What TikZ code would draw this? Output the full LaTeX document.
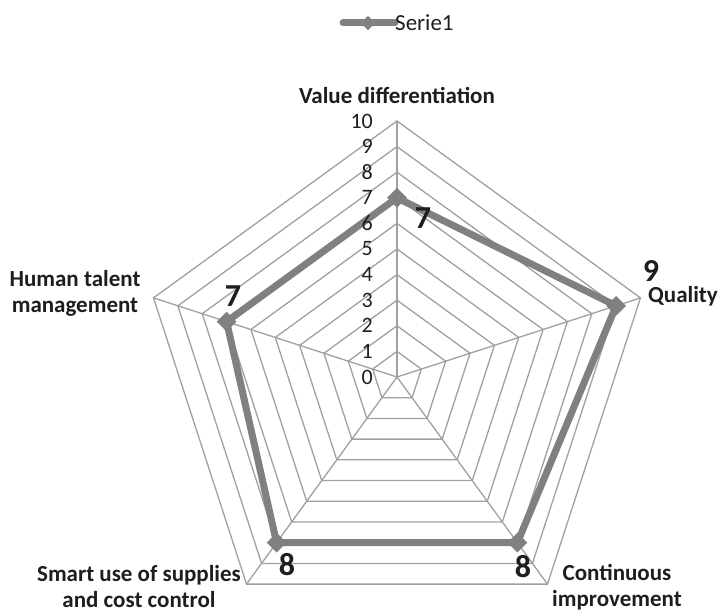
\documentclass[tikz,border=0pt]{standalone}
\usepackage{fontspec}
\setmainfont{Carlito}
\definecolor{gridgray}{HTML}{A0A0A0}
\definecolor{seriegray}{HTML}{808080}
\definecolor{textgray}{HTML}{1E1E1E}
\begin{document}
\begin{tikzpicture}[x=1pt,y=1pt,
  grid/.style={draw=gridgray,line width=1.3pt},
  serie/.style={draw=seriegray,line width=7pt,line join=round},
  marker/.style={fill=seriegray,minimum size=14pt,inner sep=0pt,rotate=45},
  tick/.style={font=\fontsize{22}{24}\selectfont,text=textgray,inner sep=0pt,anchor=east},
  axislabel/.style={font=\fontsize{23}{26}\bfseries\selectfont,align=center,text=textgray,inner sep=0pt},
  datalabel/.style={font=\fontsize{32}{36}\bfseries\selectfont,text=textgray,inner sep=0pt}]
  \useasboundingbox (-397,-238) rectangle (322,377);

  % grid rings and spokes
  \foreach \r in {1,...,10}
    \draw[grid] (90:{\r*25.6}) -- (18:{\r*25.6}) -- (-54:{\r*25.6})
      -- (-126:{\r*25.6}) -- (162:{\r*25.6}) -- cycle;
  \foreach \a in {90,18,-54,-126,162}
    \draw[grid] (0,0) -- (\a:256);

  % series
  \coordinate (pv) at (90:{7*25.6});
  \coordinate (pq) at (18:{9*25.6});
  \coordinate (pc) at (-54:{8*25.6});
  \coordinate (ps) at (-126:{8*25.6});
  \coordinate (ph) at (162:{7*25.6});
  \draw[serie] (pv) -- (pq) -- (pc) -- (ps) -- (ph) -- cycle;
  \foreach \p in {pv,pq,pc,ps,ph}
    \node[marker] (m\p) at (\p) {};

  \foreach \r in {0,...,10}
    \node[tick] (t\r) at (-24,{\r*25.6}) {\r};

  \node[datalabel] (dv) at (26,159) {7};
  \node[datalabel] (dq) at (254,106) {9};
  \node[datalabel] (dc) at (126,-190) {8};
  \node[datalabel] (ds) at (-110,-188) {8};
  \node[datalabel] (dh) at (-164,81) {7};

  % axis labels
  \node[axislabel] (av) at (0,281) {Value differentiation};
  \node[axislabel] (aq) at (286,81) {Quality};
  \node[axislabel] (ah) at (-322,84) {Human talent\\management};
  \node[axislabel] (as) at (-258,-210) {Smart use of supplies\\and cost control};
  \node[axislabel] (ac) at (220,-210) {Continuous\\improvement};

  % legend
  \coordinate (la) at (-54,354);
  \coordinate (lb) at (-2,354);
  \draw[serie,line cap=round] (la) -- (lb);
  \node[marker,minimum size=10pt] (lm) at (-29,354) {};
  \node[font=\fontsize{23}{27}\selectfont,text=textgray,inner sep=0pt,anchor=west] (lt) at (lb) {Serie1};
\end{tikzpicture}
\end{document}
